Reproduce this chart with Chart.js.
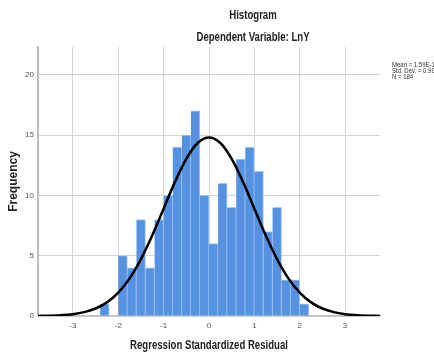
<!DOCTYPE html>
<html>
<head>
<meta charset="utf-8">
<script src="https://cdn.jsdelivr.net/npm/chart.js@4.4.1/dist/chart.umd.min.js"></script>
<style>
  html, body { margin: 0; padding: 0; background: #fff; }
  #wrap { width: 434px; height: 353px; }
</style>
</head>
<body>
<div id="wrap"><canvas id="hist" width="434" height="353"></canvas></div>
<script>
// histogram bins (width 0.2), centre of each bin
const binCenters = [-2.3, -2.1, -1.9, -1.7, -1.5, -1.3, -1.1, -0.9, -0.7, -0.5, -0.3, -0.1,
                    0.1, 0.3, 0.5, 0.7, 0.9, 1.1, 1.3, 1.5, 1.7, 1.9, 2.1];
const binCounts  = [1, 0, 5, 4, 8, 4, 8, 10, 14, 15, 17, 10,
                    6, 11, 9, 13, 14, 12, 7, 9, 3, 3, 1];

// normal curve
const curveX = [-3.77, -3.5, -3.25, -3, -2.75, -2.5, -2.25, -2, -1.75, -1.5, -1.25, -1, -0.75, -0.5, -0.25,
                0, 0.25, 0.5, 0.75, 1, 1.25, 1.5, 1.75, 2, 2.25, 2.5, 2.75, 3, 3.25, 3.5, 3.77];
const curveY = [0.01, 0.03, 0.07, 0.15, 0.32, 0.62, 1.13, 1.94, 3.12, 4.72, 6.69, 8.9, 11.12, 13.03, 14.34,
                14.8, 14.34, 13.03, 11.12, 8.9, 6.69, 4.72, 3.12, 1.94, 1.13, 0.62, 0.32, 0.15, 0.07, 0.03, 0.01];

const xTicks = [-3, -2, -1, 0, 1, 2, 3];
const yTicks = [0, 5, 10, 15, 20];

const titleLines = ["Histogram", "Dependent Variable: LnY"];
const xTitle = "Regression Standardized Residual";
const yTitle = "Frequency";
const statLines = ["Mean = 1.59E-15", "Std. Dev. = 0.992", "N = 184"];

const FONT = "'Liberation Sans', Arial, sans-serif";
const SQUEEZE = 0.8; // the source text is horizontally condensed

function squeezedText(ctx, text, x, y, align) {
  ctx.save();
  ctx.translate(x, y);
  ctx.scale(SQUEEZE, 1);
  ctx.textAlign = align;
  ctx.fillText(text, 0, 0);
  ctx.restore();
}

// titles, axis titles and the stats block, drawn by hand so they can be condensed
const textPlugin = {
  id: "texts",
  afterDraw(chart) {
    const ctx = chart.ctx;
    const area = chart.chartArea;
    ctx.save();
    ctx.textBaseline = "middle";
    ctx.fillStyle = "#222";
    ctx.font = "bold 12px " + FONT;
    squeezedText(ctx, titleLines[0], 253, 16, "center");
    squeezedText(ctx, titleLines[1], 253, 38, "center");
    squeezedText(ctx, xTitle, (area.left + area.right) / 2, 346, "center");

    // vertical title is not condensed along its length
    ctx.save();
    ctx.translate(14, (area.top + area.bottom) / 2);
    ctx.rotate(-Math.PI / 2);
    ctx.textAlign = "center";
    ctx.fillText(yTitle, 0, 0);
    ctx.restore();

    ctx.font = "7.5px " + FONT;
    ctx.fillStyle = "#333";
    statLines.forEach((s, i) => squeezedText(ctx, s, 392, 65 + i * 5.8, "left"));
    ctx.restore();
  }
};

new Chart(document.getElementById("hist"), {
  type: "bar",
  data: {
    datasets: [
      {
        type: "line",
        data: curveX.map((x, i) => ({ x, y: curveY[i] })),
        borderColor: "#000",
        borderWidth: 2.5,
        pointRadius: 0,
        cubicInterpolationMode: "monotone",
        order: 0
      },
      {
        type: "bar",
        data: binCenters.map((x, i) => ({ x, y: binCounts[i] })),
        backgroundColor: "#5592e2",
        borderColor: "#a8c8f2",
        borderWidth: { top: 1, right: 1, bottom: 0, left: 0 },
        borderSkipped: false,
        barPercentage: 1,
        categoryPercentage: 1,
        order: 1
      }
    ]
  },
  options: {
    responsive: false,
    animation: false,
    layout: { padding: { left: 0, right: 54, top: 47, bottom: 0 } },
    plugins: { legend: { display: false }, tooltip: { enabled: false }, title: { display: false } },
    scales: {
      x: {
        type: "linear",
        min: -3.77,
        max: 3.77,
        offset: false,
        afterBuildTicks: s => { s.ticks = xTicks.map(v => ({ value: v })); },
        afterFit: s => { s.height = 37; },
        grid: { offset: false, color: "#d4d4d4", lineWidth: 1, drawTicks: false },
        border: { color: "#bdbdbd", width: 1.5 },
        ticks: { color: "#555", font: { size: 8, family: FONT }, padding: 5, maxRotation: 0 }
      },
      y: {
        min: 0,
        max: 22.3,
        afterBuildTicks: s => { s.ticks = yTicks.map(v => ({ value: v })); },
        afterFit: s => { s.width = 38; },
        grid: { color: "#d4d4d4", lineWidth: 1, drawTicks: false },
        border: { color: "#bdbdbd", width: 2 },
        ticks: { color: "#555", font: { size: 8, family: FONT }, padding: 4 }
      }
    }
  },
  plugins: [textPlugin]
});
</script>
</body>
</html>
